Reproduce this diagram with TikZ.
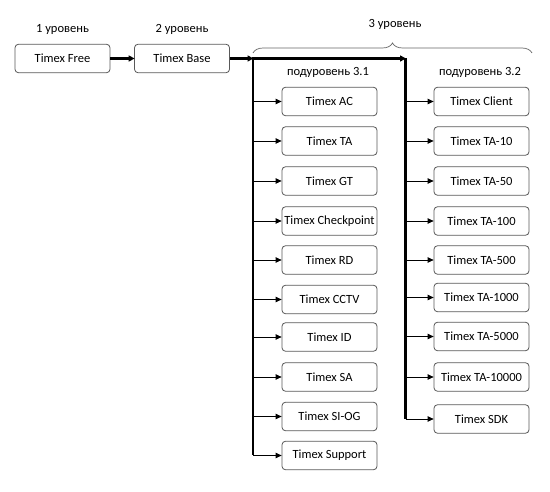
\documentclass[tikz,border=0pt]{standalone}
\usepackage{fontspec}
\setmainfont{Carlito}
\usetikzlibrary{arrows.meta,decorations.pathreplacing}
\begin{document}
\begin{tikzpicture}[x=1pt,y=-1pt,
  box/.style={draw=black!65, line width=0.8pt, rounded corners=3.5pt, minimum width=95pt, minimum height=28.5pt, inner sep=0pt, font=\fontsize{12.5}{14}\selectfont},
  lbl/.style={font=\fontsize{12.5}{14}\selectfont, inner sep=0pt},
  thin arrow/.style={line width=0.8pt, -{Triangle[length=6pt,width=5.5pt]}},
  thick arrow/.style={line width=2.4pt, -{Triangle[length=6pt,width=6pt]}, shorten >=-0.5pt},
  thickline/.style={line width=2.4pt}]
\useasboundingbox (0,0) rectangle (550,492);
% level 1 and 2
\node[box] (free) at (62.5,58.5) {Timex Free};
\node[box] (base) at (182,58.5) {Timex Base};
\node[lbl] (l1) at (62.5,29) {1 уровень};
\node[lbl] (l2) at (182,29) {2 уровень};
\node[lbl] (l3) at (395,24) {3 уровень};
\node[lbl] (s31) at (328,72) {подуровень 3.1};
\node[lbl] (s32) at (480,72) {подуровень 3.2};
% brace
\coordinate (bl) at (253,53);
\coordinate (br) at (532,53);
\draw[black!60, line width=0.7pt, decoration={brace,amplitude=10pt}, decorate] (bl) -- (br);
% column 1
\node[box] (ac) at (329.5,101.5) {Timex AC};
\node[box] (ta) at (329.5,141) {Timex TA};
\node[box] (gt) at (329.5,181) {Timex GT};
\node[box] (cp) at (329.5,221) {Timex Checkpoint};
\node[box] (rd) at (329.5,260) {Timex RD};
\node[box] (cctv) at (329.5,299.5) {Timex CCTV};
\node[box] (id) at (329.5,337) {Timex ID};
\node[box] (sa) at (329.5,377) {Timex SA};
\node[box] (siog) at (329.5,416.5) {Timex SI-OG};
\node[box] (sup) at (329.5,455.5) {Timex Support};
% column 2
\node[box] (cl) at (481.5,101.5) {Timex Client};
\node[box] (t10) at (481.5,141) {Timex TA-10};
\node[box] (t50) at (481.5,181) {Timex TA-50};
\node[box] (t100) at (481.5,221) {Timex TA-100};
\node[box] (t500) at (481.5,260) {Timex TA-500};
\node[box] (t1000) at (481.5,297.5) {Timex TA-1000};
\node[box] (t5000) at (481.5,336.5) {Timex TA-5000};
\node[box] (t10000) at (481.5,377) {Timex TA-10000};
\node[box] (sdk) at (481.5,419) {Timex SDK};
% trunk
\coordinate (v1top) at (253,58.5);
\coordinate (v1bot) at (253,455.5);
\coordinate (v2top) at (405.5,58.5);
\coordinate (v2bot) at (405.5,419);
\draw[thick arrow] (free) -- (base);
\draw[thick arrow] (base) -- (v1top);
\draw[thickline] (v1top) -- (v1bot);
\draw[thickline] (v2top) -- (v2bot);
\draw[thick arrow, shorten <=-1.2pt] (v1top) -- (v2top);
% branches
\foreach \n in {ac,ta,gt,cp,rd,cctv,id,sa,siog,sup}
  \draw[thin arrow] (v1top |- \n.west) -- (\n.west);
\foreach \n in {cl,t10,t50,t100,t500,t1000,t5000,t10000,sdk}
  \draw[thin arrow] (v2top |- \n.west) -- (\n.west);
\end{tikzpicture}
\end{document}
